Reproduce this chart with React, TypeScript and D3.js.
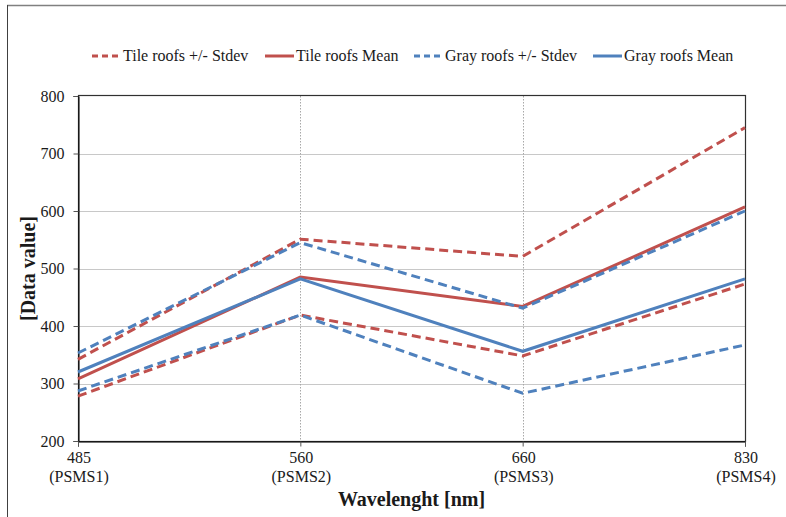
import React, { useEffect, useRef } from 'react';
import * as d3 from 'd3';

const wavelengths = ['485', '560', '660', '830'];
const bands = ['(PSMS1)', '(PSMS2)', '(PSMS3)', '(PSMS4)'];
const yTicks = [200, 300, 400, 500, 600, 700, 800];

const tileUpper = [342, 551, 521, 745];
const tileMean = [308, 485, 434, 607];
const tileLower = [278, 419, 348, 473];
const grayUpper = [353, 545, 431, 600];
const grayMean = [320, 482, 356, 482];
const grayLower = [287, 419, 283, 367];

const RED = '#C0504D';
const BLUE = '#4F81BD';

const seriesList = [
    { name: 'Tile roofs +/- Stdev', values: tileUpper, color: RED, dashed: true, legend: true },
    { name: 'Tile roofs +/- Stdev', values: tileLower, color: RED, dashed: true, legend: false },
    { name: 'Tile roofs Mean', values: tileMean, color: RED, dashed: false, legend: true },
    { name: 'Gray roofs +/- Stdev', values: grayUpper, color: BLUE, dashed: true, legend: true },
    { name: 'Gray roofs +/- Stdev', values: grayLower, color: BLUE, dashed: true, legend: false },
    { name: 'Gray roofs Mean', values: grayMean, color: BLUE, dashed: false, legend: true },
];

const App = () => {
    const svgRef = useRef<SVGSVGElement>(null);

    useEffect(() => {
        const svg = d3.select(svgRef.current);
        svg.selectAll('*').remove();
        const width = 786;
        const height = 517;
        const left = 78, right = 745, top = 96, bottom = 441;
        const font = '"Liberation Serif", "Times New Roman", serif';
        const ink = '#1a1a1a';

        svg.attr('width', width).attr('height', height);

        // outer frame (only top and left edges show)
        svg.append('line').attr('x1', 7).attr('x2', width).attr('y1', 5.5).attr('y2', 5.5)
            .attr('stroke', '#808080').attr('stroke-width', 1.5);
        svg.append('line').attr('x1', 7.5).attr('x2', 7.5).attr('y1', 5).attr('y2', height)
            .attr('stroke', '#404040').attr('stroke-width', 1);

        const x = d3.scalePoint<string>().domain(wavelengths).range([left, right]);
        const y = d3.scaleLinear().domain([200, 800]).range([bottom, top]);

        // grid
        const grid = svg.append('g');
        grid.selectAll('.hgrid')
            .data(yTicks.filter(t => t > 200 && t < 800))
            .join('line')
            .attr('x1', left).attr('x2', right)
            .attr('y1', d => Math.round(y(d)) + 0.5).attr('y2', d => Math.round(y(d)) + 0.5)
            .attr('stroke', '#c8c8c8').attr('stroke-width', 1);
        grid.selectAll('.vgrid')
            .data(wavelengths.slice(1, -1))
            .join('line')
            .attr('x1', d => Math.round(x(d)!) + 0.5).attr('x2', d => Math.round(x(d)!) + 0.5)
            .attr('y1', top).attr('y2', bottom)
            .attr('stroke', '#a8a8a8').attr('stroke-width', 1).attr('stroke-dasharray', '1.5,1.5');

        // plot frame
        svg.append('rect').attr('x', left + 0.5).attr('y', top - 0.5)
            .attr('width', right - left).attr('height', bottom - top + 1)
            .attr('fill', 'none').attr('stroke', '#303030').attr('stroke-width', 1.2);

        // axes
        const yAxis = d3.axisLeft(y).tickValues(yTicks).tickSize(5).tickPadding(9);
        const gy = svg.append('g').attr('transform', `translate(${left + 0.5},0)`).call(yAxis);
        gy.select('.domain').attr('stroke', '#000');
        gy.selectAll('.tick line').attr('stroke', '#555');
        gy.selectAll('text').attr('font-family', font).attr('font-size', 16).attr('fill', ink);

        const xAxis = d3.axisBottom(x).tickSize(5).tickFormat(() => '');
        const gx = svg.append('g').attr('transform', `translate(0,${bottom + 0.5})`).call(xAxis);
        gx.select('.domain').attr('stroke', '#000');
        gx.selectAll('.tick line').attr('stroke', '#555');

        const xl = svg.append('g');
        xl.selectAll('.wl').data(wavelengths).join('text')
            .attr('x', d => x(d)! + 1).attr('y', 463)
            .attr('text-anchor', 'middle').attr('font-family', font).attr('font-size', 16).attr('fill', ink)
            .text(d => d);
        xl.selectAll('.bd').data(wavelengths).join('text')
            .attr('x', d => x(d)! + 1).attr('y', 482)
            .attr('text-anchor', 'middle').attr('font-family', font).attr('font-size', 16).attr('fill', ink)
            .text((d, i) => bands[i]);

        // axis titles
        svg.append('text').attr('x', (left + right) / 2).attr('y', 506)
            .attr('text-anchor', 'middle').attr('font-family', font).attr('font-size', 20)
            .attr('font-weight', 'bold').attr('fill', ink).text('Wavelenght [nm]');
        svg.append('text').attr('transform', `translate(35,${(top + bottom) / 2}) rotate(-90)`)
            .attr('text-anchor', 'middle').attr('font-family', font).attr('font-size', 20)
            .attr('font-weight', 'bold').attr('fill', ink).text('[Data value]');

        // lines
        const line = d3.line<number>()
            .x((d, i) => x(wavelengths[i])!)
            .y(d => y(d));
        svg.append('g').selectAll('path')
            .data(seriesList)
            .join('path')
            .attr('d', d => line(d.values))
            .attr('fill', 'none')
            .attr('stroke', d => d.color)
            .attr('stroke-width', 3)
            .attr('stroke-dasharray', d => d.dashed ? '9,5' : null);

        // legend
        const legendItems = seriesList.filter(s => s.legend);
        const legendX = [92, 265, 414, 593];
        const lg = svg.append('g');
        legendItems.forEach((s, i) => {
            const g = lg.append('g').attr('transform', `translate(${legendX[i]},56)`);
            g.append('line').attr('x1', 0).attr('x2', 29).attr('y1', 0).attr('y2', 0)
                .attr('stroke', s.color).attr('stroke-width', 3)
                .attr('stroke-dasharray', s.dashed ? '6,4' : null);
            g.append('text').attr('x', 31).attr('y', 5)
                .attr('font-family', font).attr('font-size', 16).attr('fill', ink)
                .text(s.name);
        });
    }, []);

    return (
        <svg ref={svgRef} style={{ position: 'absolute', left: 0, top: 0, background: '#fff' }} />
    );
};

export default App;
